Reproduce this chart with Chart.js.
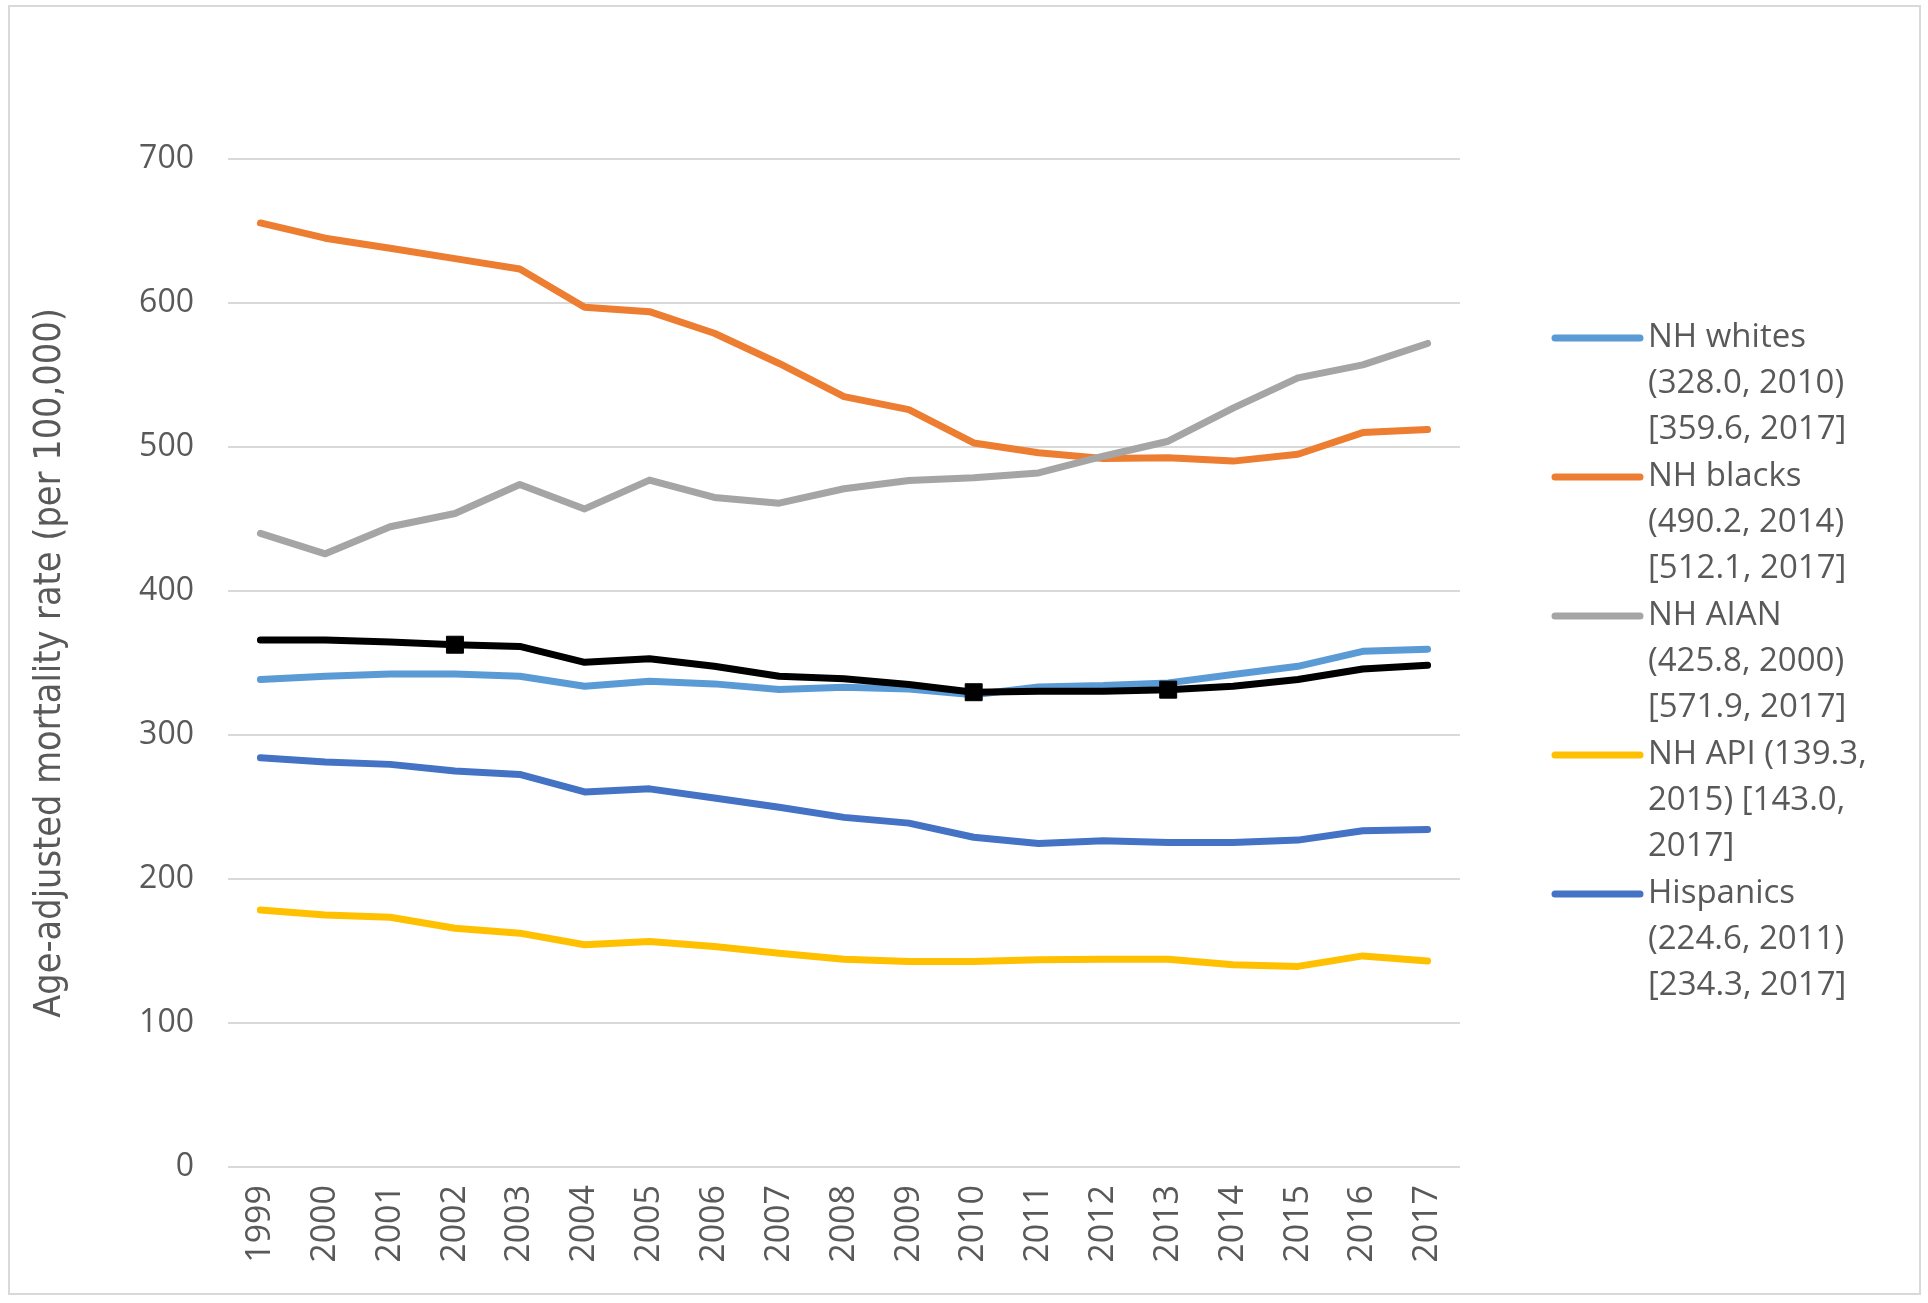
<!DOCTYPE html>
<html><head><meta charset="utf-8">
<script src="https://cdn.jsdelivr.net/npm/chart.js@4.4.1/dist/chart.umd.min.js"></script>
<style>
html,body{margin:0;padding:0;background:#fff;width:1928px;height:1303px;overflow:hidden;}
#wrap{position:absolute;left:0;top:0;width:1928px;height:1303px;}
#frame{position:absolute;left:8px;top:5px;width:1909px;height:1286px;border:2px solid #d9d9d9;pointer-events:none;}
</style></head><body>
<div id="wrap"><canvas id="c" width="1928" height="1303"></canvas></div>
<div id="frame"></div>
<script>
const years = ['1999','2000','2001','2002','2003','2004','2005','2006','2007','2008','2009','2010','2011','2012','2013','2014','2015','2016','2017'];
const yTicks = [0,100,200,300,400,500,600,700];
const whites = [338.5,340.8,342.4,342.4,340.8,333.9,337.3,335.5,331.6,333.2,332.0,328.0,333.4,334.3,336.2,342.0,347.7,358.1,359.6];
const blacks = [655.6,645.0,638.0,630.8,623.6,597.0,594.0,579.0,558.0,535.0,526.0,502.8,496.0,492.0,492.5,490.2,495.0,510.0,512.1];
const aian = [440.0,425.8,444.6,453.8,474.0,457.0,477.0,465.0,461.0,471.0,476.7,478.6,482.0,493.6,504.0,527.0,548.0,557.0,571.9];
const api = [178.5,175.0,173.4,165.8,162.4,154.3,156.6,153.1,148.5,144.3,142.7,142.7,143.9,144.3,144.3,140.4,139.3,146.6,143.0];
const hispanics = [284.2,281.2,279.6,275.0,272.6,260.5,262.6,256.3,249.8,242.8,238.8,229.0,224.6,226.5,225.3,225.4,227.0,233.5,234.3];
const overall = [366.0,366.0,364.5,362.7,361.5,350.5,353.0,347.7,340.8,339.0,335.0,329.7,330.4,330.4,331.5,333.8,338.5,345.8,348.4];
const markedYears = ['2002','2010','2013'];
const legendWhites = ['NH whites','(328.0, 2010)','[359.6, 2017]'];
const legendBlacks = ['NH blacks','(490.2, 2014)','[512.1, 2017]'];
const legendAian = ['NH AIAN','(425.8, 2000)','[571.9, 2017]'];
const legendApi = ['NH API (139.3,','2015) [143.0,','2017]'];
const legendHispanics = ['Hispanics','(224.6, 2011)','[234.3, 2017]'];
const yTitle = 'Age-adjusted mortality rate (per 100,000)';

const TXT = '#595959';
const FONT = "'Open Sans', 'DejaVu Sans', sans-serif";

function lineDs(label, data, color, order, legendLines) {
  return {label, data, borderColor: color, backgroundColor: color, borderWidth: 7,
    pointRadius: 0, pointHoverRadius: 0, tension: 0, order,
    borderJoinStyle: 'round', borderCapStyle: 'round', legendLines};
}
const blackDs = lineDs('Overall', overall, '#000000', 0, null);
blackDs.pointStyle = 'rect';
blackDs.pointRadius = years.map(y => markedYears.includes(y) ? 12 : 0);
blackDs.pointBorderWidth = 1;
blackDs.pointBackgroundColor = '#000000';
blackDs.pointBorderColor = '#000000';

const datasets = [
  lineDs('NH whites', whites, '#5B9BD5', 2, legendWhites),
  lineDs('NH blacks', blacks, '#ED7D31', 3, legendBlacks),
  lineDs('NH AIAN', aian, '#A5A5A5', 1, legendAian),
  lineDs('NH API', api, '#FFC000', 4, legendApi),
  lineDs('Hispanics', hispanics, '#4472C4', 5, legendHispanics),
  blackDs
];

const sideLegend = {
  id: 'sideLegend',
  afterDraw(chart) {
    const ctx = chart.ctx;
    ctx.save();
    ctx.font = '33px ' + FONT;
    ctx.fillStyle = TXT;
    ctx.textBaseline = 'middle';
    ctx.textAlign = 'left';
    let y = 338;
    chart.data.datasets.forEach(ds => {
      if (!ds.legendLines) return;
      ctx.strokeStyle = ds.borderColor;
      ctx.lineWidth = 7;
      ctx.lineCap = 'round';
      ctx.beginPath(); ctx.moveTo(1555, y); ctx.lineTo(1640, y); ctx.stroke();
      ds.legendLines.forEach((t, k) => ctx.fillText(t, 1648, y + k * 46));
      y += 139;
    });
    ctx.restore();
  }
};

new Chart(document.getElementById('c'), {
  type: 'line',
  data: {labels: years, datasets},
  plugins: [sideLegend],
  options: {
    responsive: false,
    animation: false,
    devicePixelRatio: 1,
    layout: {padding: {top: 159, right: 468, left: 0, bottom: 0}},
    plugins: {legend: {display: false}, tooltip: {enabled: false}},
    scales: {
      x: {
        offset: true,
        grid: {display: false, drawTicks: false},
        border: {display: false},
        ticks: {color: TXT, font: {family: FONT, size: 34}, minRotation: 90, maxRotation: 90, padding: 18, autoSkip: false},
        afterFit(s) { s.height = 136; }
      },
      y: {
        min: 0, max: 700,
        afterBuildTicks(s) { s.ticks = yTicks.map(v => ({value: v})); },
        grid: {color: '#d9d9d9', lineWidth: 2, drawTicks: false},
        border: {display: false},
        ticks: {color: TXT, font: {family: FONT, size: 32}, padding: 34},
        title: {display: true, text: yTitle, color: TXT,
          font: {family: "'Liberation Sans Narrow', 'DejaVu Sans Condensed', Roboto, sans-serif", size: 37.5},
          padding: {top: 28, bottom: 0}},
        afterFit(s) { s.width = 228; }
      }
    }
  }
});
</script>
</body></html>
